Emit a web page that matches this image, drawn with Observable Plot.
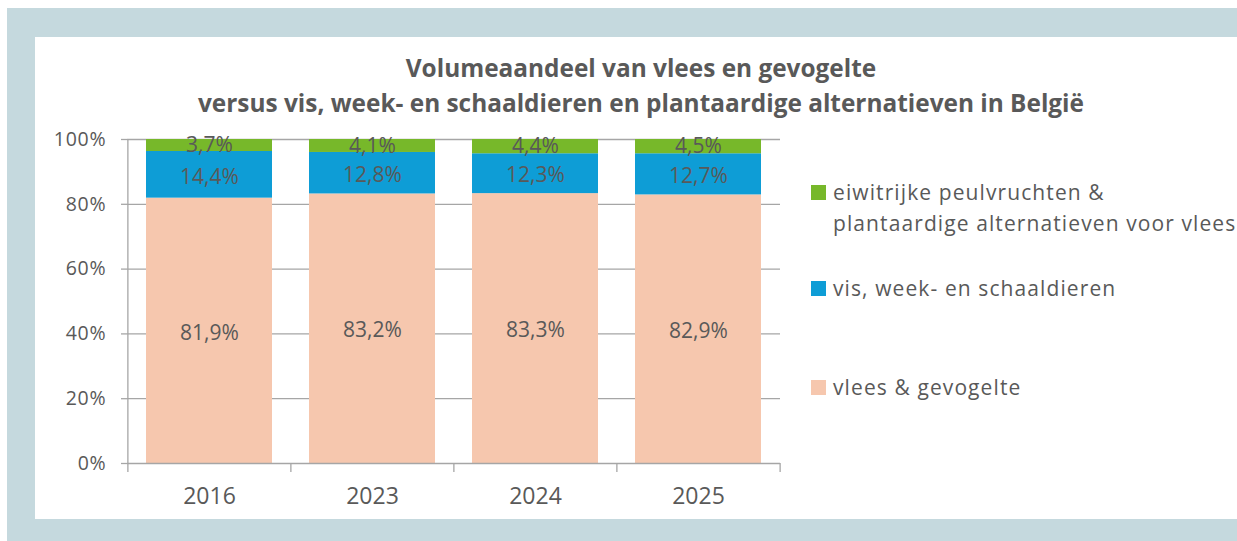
<!DOCTYPE html>
<html>
<head>
<meta charset="utf-8">
<script src="https://cdn.jsdelivr.net/npm/d3@7"></script>
<script src="https://cdn.jsdelivr.net/npm/@observablehq/plot@0.6"></script>
<style>
  html, body { margin: 0; padding: 0; background: #ffffff; }
  body { width: 1237px; height: 541px; position: relative; overflow: hidden; font-family: "Open Sans", sans-serif; color: #595959; }
  #border { position: absolute; left: 7px; top: 8px; width: 1230px; height: 533px; background: #C5D9DE; }
  #panel { position: absolute; left: 35px; top: 37px; width: 1202px; height: 482px; background: #ffffff; overflow: hidden; }
  #title { position: absolute; left: 0; top: 13px; width: 1212px; text-align: center; font-weight: bold; font-size: 24.4px; line-height: 35px; color: #595959; }
  #chart { position: absolute; left: 0; top: 88px; }
  #legend { position: absolute; left: 776px; top: 0; font-size: 21px; color: #595959; }
  .item { position: absolute; white-space: nowrap; }
  .sw { position: absolute; width: 15px; height: 15px; left: 0; }
  .lab { position: absolute; left: 22px; line-height: 31px; letter-spacing: 1.1px; }
  #chart svg g[aria-label="y-axis tick label"] text { letter-spacing: 0.8px; }
</style>
</head>
<body>
<div id="border"></div>
<div id="panel">
  <div id="title">Volumeaandeel van vlees en gevogelte<br>versus vis, week- en schaaldieren en plantaardige alternatieven in België</div>
  <div id="chart"></div>
  <div id="legend"></div>
</div>
<script>
const years = ["2016", "2023", "2024", "2025"];
const vlees = [81.9, 83.2, 83.3, 82.9];
const vis = [14.4, 12.8, 12.3, 12.7];
const plant = [3.7, 4.1, 4.4, 4.5];
const seriesNames = ["vlees & gevogelte", "vis, week- en schaaldieren", "eiwitrijke peulvruchten & plantaardige alternatieven voor vlees"];
const seriesColors = ["#F6C7AE", "#0E9DD6", "#77B82A"];
const yTicks = [0, 20, 40, 60, 80, 100];

const seriesValues = [vlees, vis, plant];
const rows = [];
years.forEach((yr, i) => {
  let base = 0;
  seriesValues.forEach((vals, s) => {
    const v = vals[i];
    rows.push({year: yr, series: seriesNames[s], value: v, y1: base, y2: base + v, mid: base + v / 2,
      label: v.toFixed(1).replace(".", ",") + "%"});
    base += v;
  });
});

const W = 1202, H = 394, ML = 92, MR = 457, MT = 14, MB = 56;
const step = (W - ML - MR) / years.length;
const axisColor = "#A6A6A6";

const chart = Plot.plot({
  width: W, height: H,
  marginLeft: ML, marginRight: MR, marginTop: MT, marginBottom: MB,
  style: {fontFamily: "'Open Sans', sans-serif", color: "#595959", background: "transparent"},
  x: {type: "band", domain: years, paddingInner: 0.227, paddingOuter: 0.1135, align: 0.5},
  y: {domain: [0, 100]},
  color: {domain: seriesNames, range: seriesColors},
  marks: [
    Plot.ruleY(yTicks.filter(d => d > 0), {y: d => d, stroke: axisColor, strokeWidth: 1.3}),
    Plot.rectY(rows, {x: "year", y1: "y1", y2: d => Math.min(d.y2, 100), fill: "series"}),
    Plot.text(rows.filter(d => d.value < 8), {x: "year", y: "mid", text: "label", fill: "#595959", fontSize: 21, dy: 0}),
    Plot.text(rows.filter(d => d.value >= 8), {x: "year", y: "mid", text: "label", fill: "#595959", fontSize: 21, dy: 2}),
    Plot.ruleY([0], {stroke: axisColor, strokeWidth: 1.3}),
    Plot.ruleX([years[0]], {x: d => d, y1: 0, y2: 100, dx: -step / 2, stroke: axisColor, strokeWidth: 1.3}),
    Plot.ruleX(years, {x: d => d, y1: 0, y2: 0, insetBottom: -9, dx: -step / 2, stroke: axisColor, strokeWidth: 1.3}),
    Plot.ruleX([years[years.length - 1]], {x: d => d, y1: 0, y2: 0, insetBottom: -9, dx: step / 2, stroke: axisColor, strokeWidth: 1.3}),
    Plot.axisY({ticks: yTicks, tickFormat: d => d + "%", tickSize: 6, tickPadding: 15, stroke: axisColor, strokeWidth: 1.3, fontSize: 19.5, fill: "#595959", label: null}),
    Plot.axisX({tickSize: 0, tickPadding: 24, fontSize: 23, fill: "#595959", label: null})
  ]
});
document.getElementById("chart").appendChild(chart);

// legend (top to bottom: reversed stack order)
const legend = document.getElementById("legend");
const legendItems = [
  {lines: ["eiwitrijke peulvruchten &", "plantaardige alternatieven voor vlees"], color: seriesColors[2], top: 140},
  {lines: [seriesNames[1]], color: seriesColors[1], top: 236},
  {lines: [seriesNames[0]], color: seriesColors[0], top: 335}
];
legendItems.forEach(it => {
  const div = document.createElement("div");
  div.className = "item";
  div.style.top = it.top + "px";
  const sw = document.createElement("div");
  sw.className = "sw";
  sw.style.background = it.color;
  sw.style.top = "8px";
  div.appendChild(sw);
  const lab = document.createElement("div");
  lab.className = "lab";
  lab.style.top = "0px";
  lab.innerHTML = it.lines.join("<br>");
  div.appendChild(lab);
  legend.appendChild(div);
});
</script>
</body>
</html>
